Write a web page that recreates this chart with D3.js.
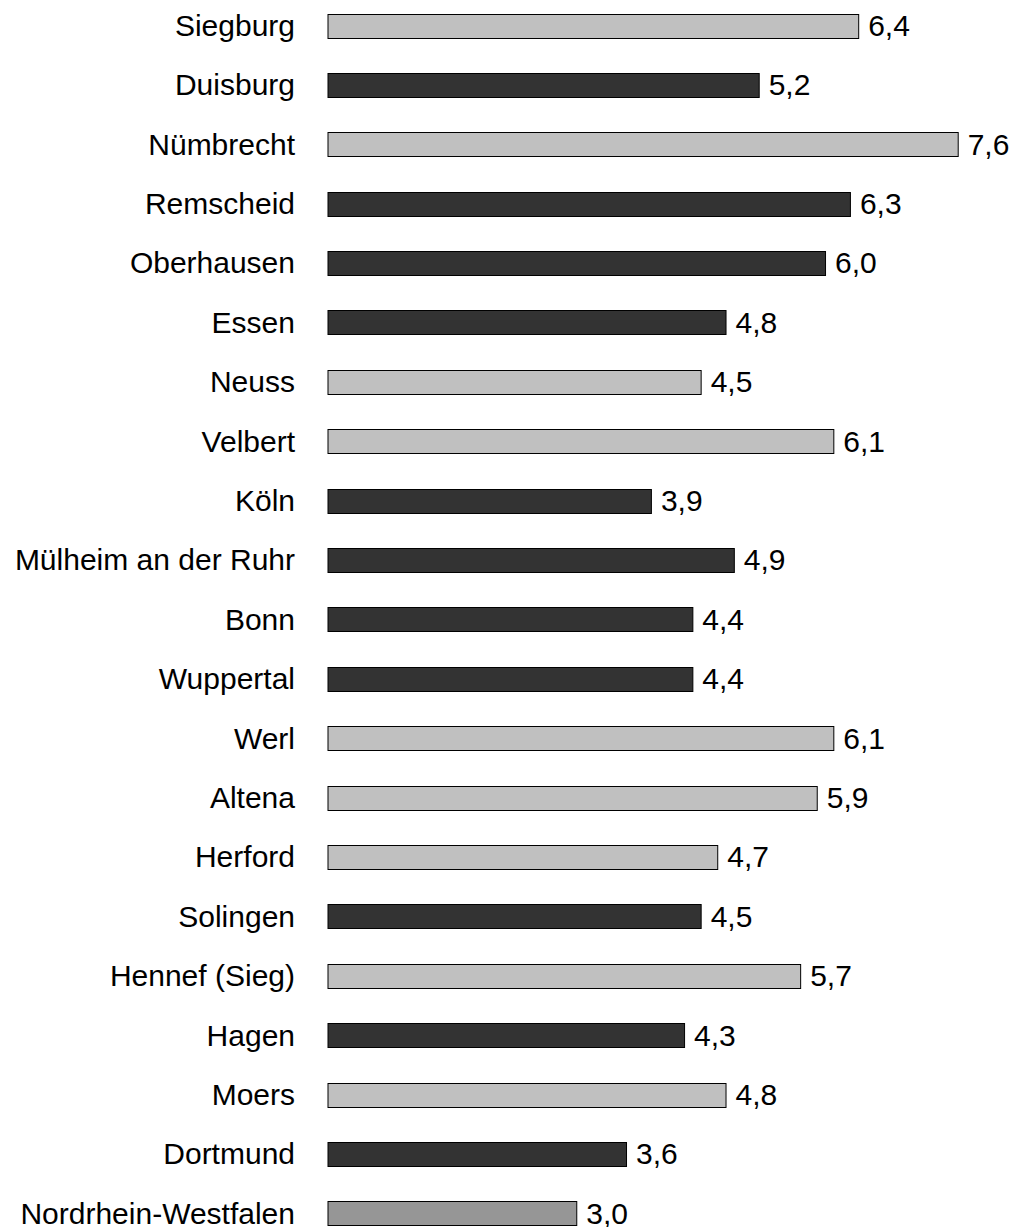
<!DOCTYPE html>
<html>
<head>
<meta charset="utf-8">
<script src="https://cdn.jsdelivr.net/npm/d3@7"></script>
<style>
  html, body { margin: 0; padding: 0; background: #fff; }
  svg { display: block; }
  text { font-family: Arial, "Liberation Sans", sans-serif; fill: #000; }
</style>
</head>
<body>
<script>
// Cities and values (percent)
const cities = [
  "Siegburg", "Duisburg", "Nümbrecht", "Remscheid", "Oberhausen", "Essen",
  "Neuss", "Velbert", "Köln", "Mülheim an der Ruhr", "Bonn", "Wuppertal",
  "Werl", "Altena", "Herford", "Solingen", "Hennef (Sieg)", "Hagen",
  "Moers", "Dortmund", "Nordrhein-Westfalen"
];
const values = [
  6.4, 5.2, 7.6, 6.3, 6.0, 4.8,
  4.5, 6.1, 3.9, 4.9, 4.4, 4.4,
  6.1, 5.9, 4.7, 4.5, 5.7, 4.3,
  4.8, 3.6, 3.0
];
// group: "l" = light, "d" = dark, "s" = state total
const groups = [
  "l", "d", "l", "d", "d", "d",
  "l", "l", "d", "d", "d", "d",
  "l", "l", "l", "d", "l", "d",
  "l", "d", "s"
];

const W = 1014, H = 1227;
const fill = { l: "#c0c0c0", d: "#333333", s: "#969696" };
const fmt = v => d3.format(".1f")(v).replace(".", ",");

const svg = d3.select("body").append("svg")
  .attr("width", W).attr("height", H);

const x = d3.scaleLinear().domain([0, 7.6]).range([327.5, 957.7]);
const y = d3.scaleBand().domain(cities).range([13.5, 1225])
  .paddingInner(0.604).paddingOuter(0);

const rows = cities.map((c, i) => ({ c, v: values[i], g: groups[i] }));

svg.selectAll("rect.bar").data(rows).join("rect")
  .attr("class", "bar")
  .attr("x", x(0) + 0.5)
  .attr("y", d => Math.round(y(d.c)) + 0.5)
  .attr("width", d => x(d.v) - x(0))
  .attr("height", Math.round(y.bandwidth()))
  .attr("fill", d => fill[d.g])
  .attr("stroke", "#000")
  .attr("stroke-width", 1);

const fs = 30;
svg.selectAll("text.cat").data(rows).join("text")
  .attr("class", "cat")
  .attr("x", 295)
  .attr("y", d => y(d.c) + y.bandwidth() / 2)
  .attr("dy", "0.35em")
  .attr("text-anchor", "end")
  .style("font-size", fs + "px")
  .text(d => d.c);

svg.selectAll("text.val").data(rows).join("text")
  .attr("class", "val")
  .attr("x", d => x(d.v) + 10)
  .attr("y", d => y(d.c) + y.bandwidth() / 2)
  .attr("dy", "0.35em")
  .style("font-size", fs + "px")
  .text(d => fmt(d.v));
</script>
</body>
</html>
